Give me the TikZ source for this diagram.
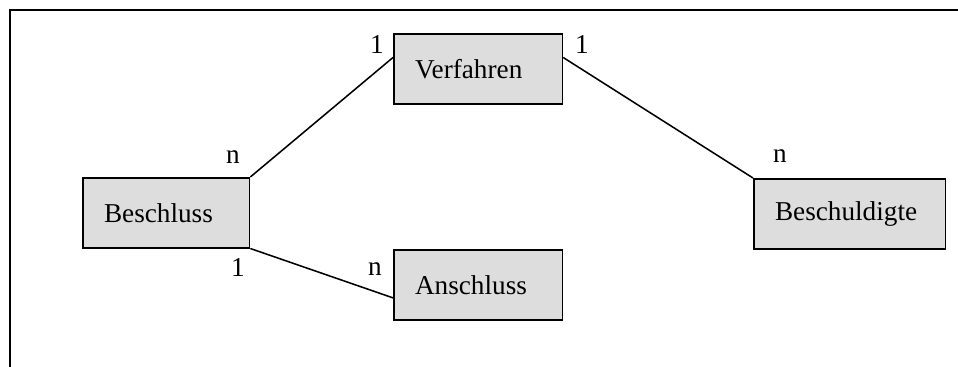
\documentclass[tikz,border=0pt]{standalone}
\usepackage{fontspec}
\setmainfont{Liberation Serif}
\usepackage{tikz}
\usepackage{xcolor}
\usetikzlibrary{positioning}
\definecolor{boxgray}{RGB}{221,221,221}

\tikzset{
  entity/.style={draw, fill=boxgray, line width=0.7pt, anchor=north west,
    minimum height=1.12cm, inner xsep=0.34cm, align=left},
  card/.style={inner sep=0pt},
  rel/.style={line width=0.7pt}
}

\begin{document}
\begin{tikzpicture}[x=0.016cm, y=-0.016cm, font=\fontsize{12.4}{14}\selectfont]
\useasboundingbox (0,0) rectangle (958,367);
% Rahmen
\draw[line width=1.1pt] (958,10) -- (10,10) -- (10,367);

% Entities
\node[entity, text width=2.02cm] (verfahren) at (393,33) {Verfahren};
\node[entity, text width=1.99cm] (beschluss) at (82,177) {Beschluss};
\node[entity, text width=2.02cm] (anschluss) at (393,249) {Anschluss};
\node[entity, text width=2.39cm] (beschuldigte) at (753,178) {Beschuldigte};

% Beziehungen
\draw[rel] (beschluss.north east) -- ([yshift=0.18cm]verfahren.west);
\draw[rel] ([yshift=0.18cm]verfahren.east) -- (beschuldigte.north west);
\draw[rel] (beschluss.south east) -- ([yshift=-0.21cm]anschluss.west);

% Kardinalitaeten
\node[card] (c1) at (377,45) {1};
\node[card] (c2) at (582,45) {1};
\node[card] (c3) at (233,157) {n};
\node[card] (c4) at (780,156) {n};
\node[card] (c5) at (238,268) {1};
\node[card] (c6) at (375,269) {n};
\end{tikzpicture}
\end{document}
